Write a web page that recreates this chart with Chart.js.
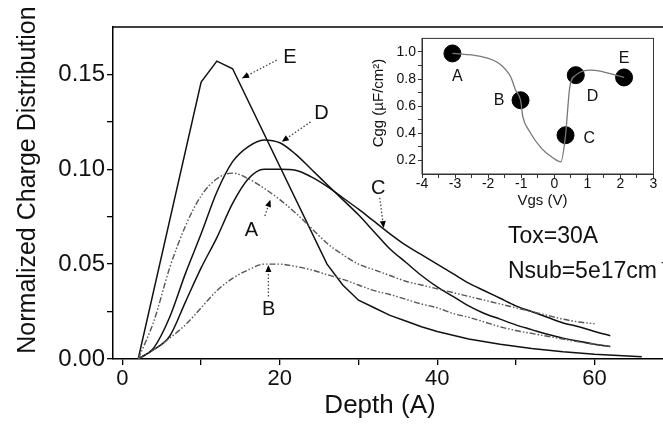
<!DOCTYPE html>
<html>
<head>
<meta charset="utf-8">
<script src="https://cdn.jsdelivr.net/npm/chart.js@4.4.1/dist/chart.umd.min.js"></script>
<style>
  html, body { margin: 0; padding: 0; background: #fff; overflow: hidden; }
  #wrap { position: relative; width: 663px; height: 429px; overflow: hidden; }
  #main { position: absolute; left: 0; top: 0; }
  #inset { position: absolute; left: 360px; top: 28px; }
</style>
</head>
<body>
<div id="wrap">
  <canvas id="main" width="663" height="429"></canvas>
  <canvas id="inset" width="303" height="185"></canvas>
</div>
<script>
// ── Main plot data: charge distribution vs depth ─────────────
const depthGrid = [2, 4, 6, 8, 10, 12, 14, 16, 18, 20, 22, 24, 26, 28, 30, 32, 34, 36, 38, 40, 42, 44, 46, 48, 50, 52, 54, 56, 58, 60, 62];
const depthA = depthGrid.slice(0, 30);
const chargeA = [0, 0.02, 0.048, 0.07, 0.086, 0.095, 0.098, 0.095, 0.090, 0.084, 0.077, 0.069, 0.061, 0.055, 0.050, 0.047, 0.044, 0.041, 0.039, 0.037, 0.035, 0.033, 0.031, 0.029, 0.027, 0.025, 0.023, 0.021, 0.0195, 0.0186];
const chargeB = [0, 0.005, 0.011, 0.018, 0.027, 0.036, 0.0425, 0.047, 0.050, 0.050, 0.0488, 0.047, 0.0445, 0.042, 0.039, 0.036, 0.034, 0.0315, 0.029, 0.027, 0.024, 0.022, 0.0195, 0.017, 0.015, 0.0135, 0.012, 0.0105, 0.009, 0.0078, 0.0066];
const chargeC = [0, 0.005, 0.012, 0.03, 0.048, 0.064, 0.082, 0.095, 0.100, 0.100, 0.0995, 0.096, 0.091, 0.085, 0.079, 0.0725, 0.066, 0.060, 0.055, 0.050, 0.045, 0.040, 0.036, 0.032, 0.028, 0.025, 0.022, 0.019, 0.017, 0.0145, 0.0123];
const chargeD = [0, 0.006, 0.022, 0.045, 0.066, 0.088, 0.104, 0.112, 0.1155, 0.114, 0.108, 0.100, 0.092, 0.084, 0.076, 0.067, 0.058, 0.051, 0.044, 0.038, 0.033, 0.028, 0.024, 0.021, 0.018, 0.0155, 0.013, 0.011, 0.0093, 0.0078, 0.0066];
const depthE = [2, 10, 12, 14, 26, 28, 30, 32, 34, 36, 38, 40, 44, 48, 52, 56, 60, 66];
const chargeE = [0, 0.146, 0.157, 0.153, 0.050, 0.039, 0.031, 0.027, 0.023, 0.020, 0.017, 0.0145, 0.0105, 0.0078, 0.0055, 0.0038, 0.0025, 0.0012];

const depthTicks = [0, 10, 20, 30, 40, 50, 60];
const depthTickLabels = ['0', '', '20', '', '40', '', '60'];
const chargeTicks = [0, 0.025, 0.05, 0.075, 0.10, 0.125, 0.15];
const chargeTickLabels = ['0.00', '', '0.05', '', '0.10', '', '0.15'];

// curve labels with dotted arrows (data coordinates)
const curveNames = ['E', 'D', 'C', 'A', 'B'];
const labelDepth = [21.3, 25.3, 32.5, 16.4, 18.6];
const labelCharge = [0.159, 0.1295, 0.090, 0.068, 0.026];
const arrowFromDepth = [19.6, 23.9, 32.7, 18.1, 18.55];
const arrowFromCharge = [0.1575, 0.125, 0.085, 0.0754, 0.033];
const arrowToDepth = [15.2, 20.25, 33.2, 18.8, 18.55];
const arrowToCharge = [0.148, 0.1145, 0.069, 0.0839, 0.0496];

// ── Inset data: Cgg vs Vgs ───────────────────────────────────
const vgsCurve = [-3.08, -2.27, -1.67, -1.32, -1.17, -1.02, -0.95, -0.77, -0.38, -0.08, 0.20, 0.34, 0.47, 0.65, 1.11, 2.11];
const cggCurve = [0.989, 0.969, 0.915, 0.817, 0.718, 0.644, 0.521, 0.423, 0.287, 0.226, 0.189, 0.386, 0.743, 0.829, 0.866, 0.812];
const pointNames = ['A', 'B', 'C', 'D', 'E'];
const vgsPoints = [-3.08, -1.02, 0.34, 0.65, 2.11];
const cggPoints = [0.989, 0.644, 0.386, 0.829, 0.812];
const pointLabelVgs = [-2.93, -1.67, 1.06, 1.16, 2.11];
const pointLabelCgg = [0.816, 0.644, 0.361, 0.674, 0.952];

const vgsTicks = [-4, -3.5, -3, -2.5, -2, -1.5, -1, -0.5, 0, 0.5, 1, 1.5, 2, 2.5, 3];
const vgsTickLabels = ['-4', '', '-3', '', '-2', '', '-1', '', '0', '', '1', '', '2', '', '3'];
const cggTicks = [0.2, 0.3, 0.4, 0.5, 0.6, 0.7, 0.8, 0.9, 1.0];
const cggTickLabels = ['0.2', '', '0.4', '', '0.6', '', '0.8', '', '1.0'];

const FONT = "'Liberation Sans', Arial, sans-serif";
Chart.defaults.font.family = FONT;

const toPoints = (xs, ys) => xs.map((v, i) => ({ x: v, y: ys[i] }));

const solidStyle = { borderColor: '#111', borderWidth: 1.5, borderDash: [] };
const dashStyle = { borderColor: '#555', borderWidth: 1.4, borderDash: [6, 2, 1.5, 2, 1.5, 2] };

const series = (xs, ys, style) => ({
	data: toPoints(xs, ys),
	showLine: true,
	pointRadius: 0,
	cubicInterpolationMode: 'monotone',
	fill: false,
	...style,
});

const drawArrow = (ctx, x0, y0, x1, y1) => {
	ctx.save();
	ctx.setLineDash([1.5, 2]);
	ctx.strokeStyle = '#444';
	ctx.lineWidth = 1.3;
	ctx.beginPath();
	ctx.moveTo(x0, y0);
	ctx.lineTo(x1, y1);
	ctx.stroke();
	const ang = Math.atan2(y1 - y0, x1 - x0);
	ctx.setLineDash([]);
	ctx.fillStyle = '#000';
	ctx.beginPath();
	ctx.moveTo(x1, y1);
	ctx.lineTo(x1 - 7 * Math.cos(ang) + 3 * Math.sin(ang), y1 - 7 * Math.sin(ang) - 3 * Math.cos(ang));
	ctx.lineTo(x1 - 7 * Math.cos(ang) - 3 * Math.sin(ang), y1 - 7 * Math.sin(ang) + 3 * Math.cos(ang));
	ctx.closePath();
	ctx.fill();
	ctx.restore();
};

// ── Main chart decorations: frame top, labels, arrows, titles ──
const mainDecor = {
	id: 'mainDecor',
	afterDraw(chart) {
		const { ctx, chartArea, scales: { x, y } } = chart;
		ctx.save();
		ctx.strokeStyle = '#000';
		ctx.lineWidth = 1.5;
		ctx.beginPath();
		ctx.moveTo(chartArea.left, chartArea.top);
		ctx.lineTo(chartArea.right, chartArea.top);
		ctx.stroke();

		curveNames.forEach((name, i) => {
			drawArrow(
				ctx,
				x.getPixelForValue(arrowFromDepth[i]), y.getPixelForValue(arrowFromCharge[i]),
				x.getPixelForValue(arrowToDepth[i]), y.getPixelForValue(arrowToCharge[i])
			);
			ctx.fillStyle = '#111';
			ctx.font = `20px ${FONT}`;
			ctx.textAlign = 'center';
			ctx.textBaseline = 'middle';
			ctx.fillText(name, x.getPixelForValue(labelDepth[i]), y.getPixelForValue(labelCharge[i]));
		});

		ctx.fillStyle = '#111';
		ctx.font = `23px ${FONT}`;
		ctx.textAlign = 'left';
		ctx.textBaseline = 'middle';
		ctx.fillText('Tox=30A', 508, 237);
		const nsub = 'Nsub=5e17cm';
		ctx.fillText(nsub, 508, 272);
		const w = ctx.measureText(nsub).width;
		ctx.font = `14px ${FONT}`;
		ctx.fillText('-3', 508 + w + 4, 263);

		// axis titles
		ctx.font = `26px ${FONT}`;
		ctx.textAlign = 'center';
		ctx.fillText('Depth (A)', 380, 406);
		ctx.translate(28, 180);
		ctx.rotate(-Math.PI / 2);
		ctx.font = `25px ${FONT}`;
		ctx.fillText('Normalized Charge Distribution', 0, 0);
		ctx.restore();
	},
};

const mainSets = [
	series(depthA, chargeA, dashStyle),
	series(depthGrid, chargeB, dashStyle),
	series(depthGrid, chargeC, solidStyle),
	series(depthGrid, chargeD, solidStyle),
	{ ...series(depthE, chargeE, solidStyle), cubicInterpolationMode: 'default', tension: 0 },
];

new Chart(document.getElementById('main'), {
	type: 'scatter',
	data: { datasets: mainSets },
	options: {
		responsive: false,
		animation: false,
		devicePixelRatio: 1,
		layout: { padding: { top: 27, right: 0, left: 0, bottom: 0 } },
		plugins: { legend: { display: false }, tooltip: { enabled: false } },
		scales: {
			x: {
				type: 'linear',
				min: -1.2,
				max: 68.7,
				afterBuildTicks: (s) => { s.ticks = depthTicks.map((v) => ({ value: v })); },
				afterFit: (s) => { s.height = 70; },
				ticks: {
					autoSkip: false,
					maxRotation: 0,
					padding: 1,
					color: '#111',
					font: { size: 22 },
					callback: (v, i) => depthTickLabels[i],
				},
				grid: { drawOnChartArea: false, tickLength: 6, color: '#000', lineWidth: 1.3 },
				border: { color: '#000', width: 1.5 },
			},
			y: {
				min: 0,
				max: 0.175,
				afterBuildTicks: (s) => { s.ticks = chargeTicks.map((v) => ({ value: v })); },
				afterFit: (s) => { s.width = 113; },
				ticks: {
					autoSkip: false,
					padding: 2,
					color: '#111',
					font: { size: 24 },
					callback: (v, i) => chargeTickLabels[i],
				},
				grid: { drawOnChartArea: false, tickLength: 6, color: '#000', lineWidth: 1.3 },
				border: { color: '#000', width: 1.5 },
			},
		},
	},
	plugins: [mainDecor],
});

// ── Inset chart ──────────────────────────────────────────────
const insetDecor = {
	id: 'insetDecor',
	afterDraw(chart) {
		const { ctx, chartArea, scales: { x, y } } = chart;
		ctx.save();
		ctx.strokeStyle = '#333';
		ctx.lineWidth = 1;
		ctx.strokeRect(chartArea.left, chartArea.top, chartArea.right - chartArea.left, chartArea.bottom - chartArea.top);
		ctx.fillStyle = '#111';
		ctx.font = `16px ${FONT}`;
		ctx.textAlign = 'center';
		ctx.textBaseline = 'middle';
		pointNames.forEach((name, i) => {
			ctx.fillText(name, x.getPixelForValue(pointLabelVgs[i]), y.getPixelForValue(pointLabelCgg[i]));
		});
		ctx.font = `15px ${FONT}`;
		ctx.fillText('Vgs (V)', 182.5, 173);
		ctx.translate(19, 75);
		ctx.rotate(-Math.PI / 2);
		ctx.fillText('Cgg (\u00b5F/cm\u00b2)', 0, 0);
		ctx.restore();
	},
};

new Chart(document.getElementById('inset'), {
	type: 'scatter',
	data: {
		datasets: [
			{
				data: toPoints(vgsCurve, cggCurve),
				showLine: true,
				pointRadius: 0,
				borderColor: '#777',
				borderWidth: 1.3,
				cubicInterpolationMode: 'monotone',
			},
			{
				data: toPoints(vgsPoints, cggPoints),
				showLine: false,
				pointRadius: 8.5,
				backgroundColor: '#000',
				borderColor: '#000',
			},
		],
	},
	options: {
		responsive: false,
		animation: false,
		devicePixelRatio: 1,
		layout: { padding: { top: 10, right: 6, left: 0, bottom: 0 } },
		plugins: { legend: { display: false }, tooltip: { enabled: false } },
		scales: {
			x: {
				type: 'linear',
				min: -4,
				max: 3,
				afterBuildTicks: (s) => { s.ticks = vgsTicks.map((v) => ({ value: v })); },
				afterFit: (s) => { s.height = 39; },
				ticks: {
					autoSkip: false,
					maxRotation: 0,
					padding: -2,
					color: '#111',
					font: { size: 14 },
					callback: (v, i) => vgsTickLabels[i],
				},
				grid: { drawOnChartArea: false, tickLength: 4, color: '#333' },
				border: { color: '#333' },
			},
			y: {
				min: 0.1,
				max: 1.1,
				afterBuildTicks: (s) => { s.ticks = cggTicks.map((v) => ({ value: v })); },
				afterFit: (s) => { s.width = 62; },
				ticks: {
					autoSkip: false,
					padding: 2,
					color: '#111',
					font: { size: 14 },
					callback: (v, i) => cggTickLabels[i],
				},
				grid: { drawOnChartArea: false, tickLength: 4, color: '#333' },
				border: { color: '#333' },
			},
		},
	},
	plugins: [insetDecor],
});
</script>
</body>
</html>
